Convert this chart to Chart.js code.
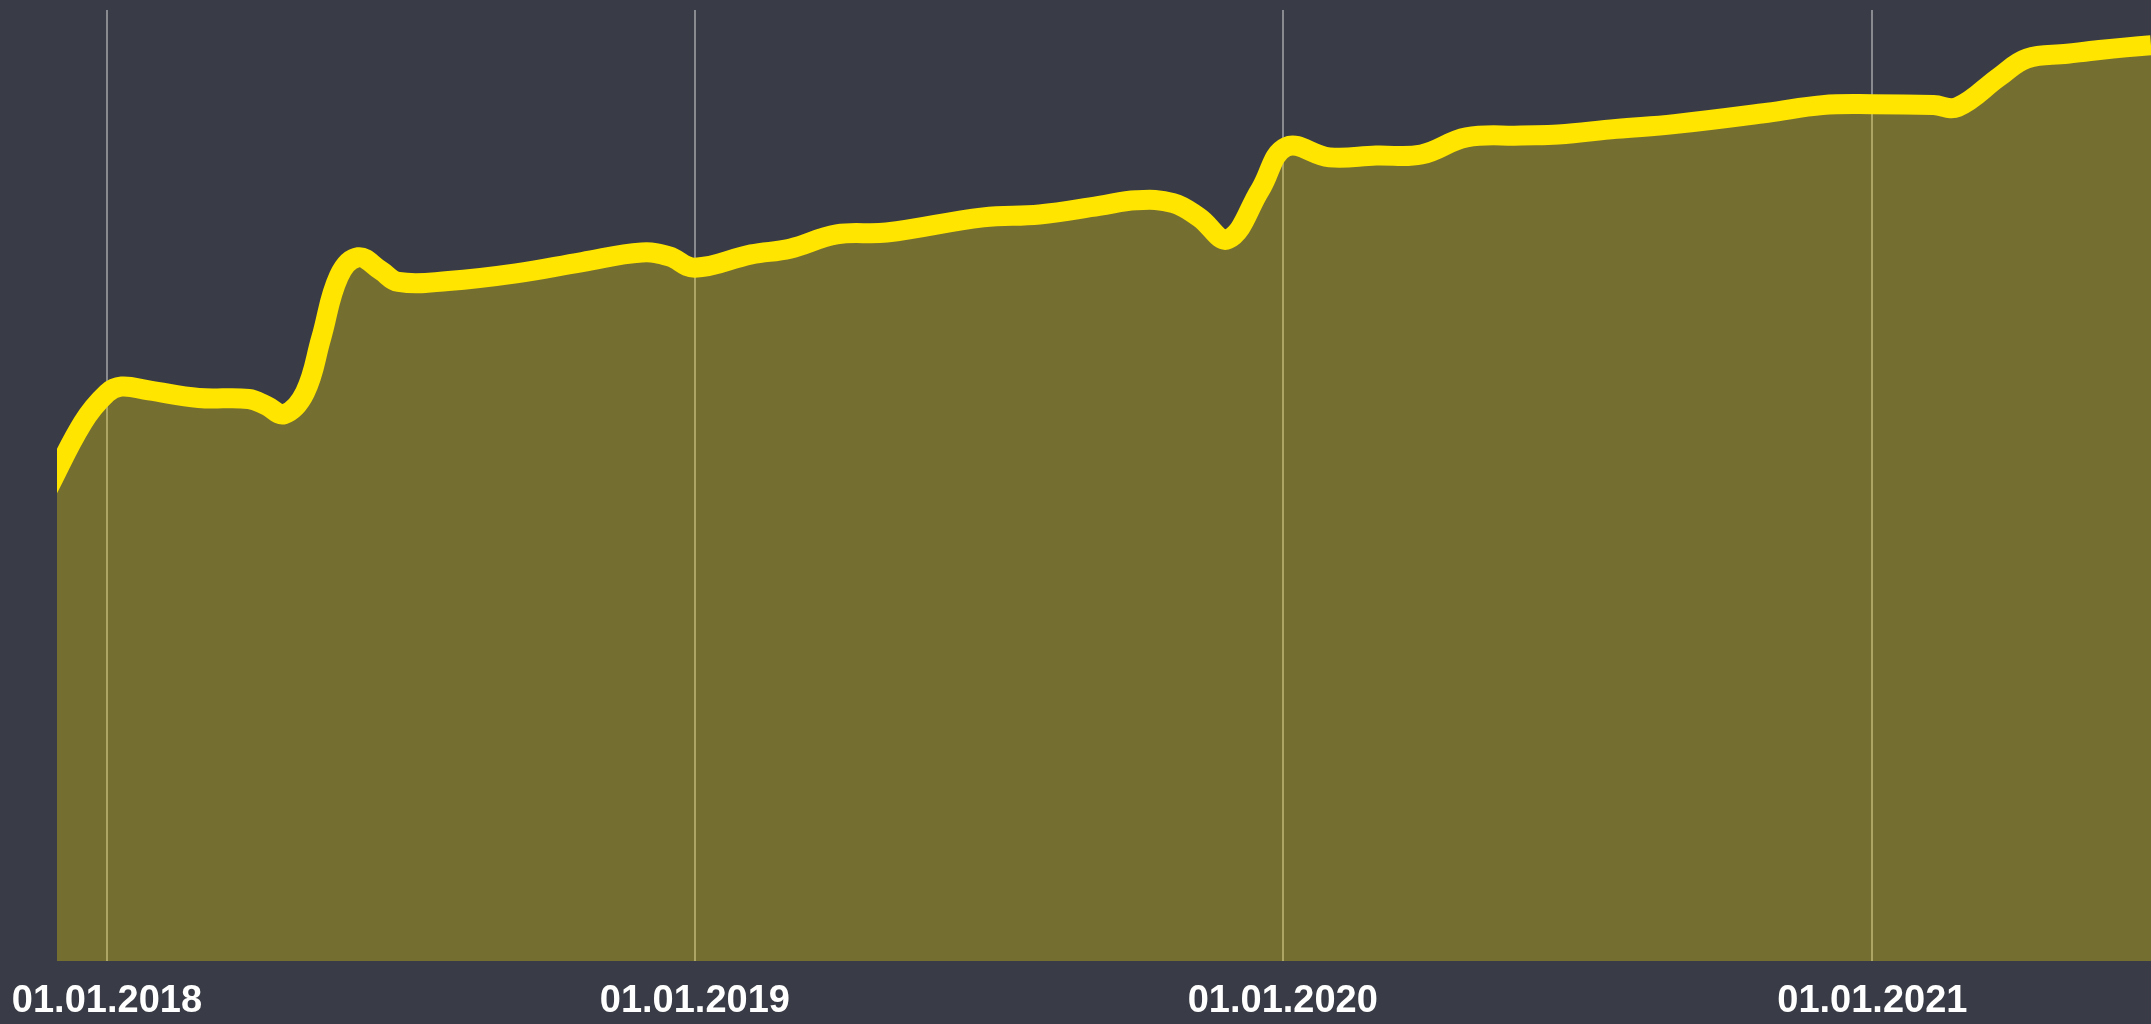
<!DOCTYPE html>
<html>
<head>
<meta charset="utf-8">
<script src="https://cdn.jsdelivr.net/npm/chart.js@4.4.1/dist/chart.umd.min.js"></script>
<style>
  html, body { margin: 0; padding: 0; background: #393c46; }
  #wrap { width: 2151px; height: 1024px; position: relative; }
</style>
</head>
<body>
<div id="wrap"><canvas id="chart"></canvas></div>
<script>
// Series (dates, values in relative units)
const dates = [
  '2017-11-25', '2017-12-17', '2018-01-01', '2018-01-10', '2018-01-27', '2018-02-27',
  '2018-03-30', '2018-04-10', '2018-04-21', '2018-05-04', '2018-05-14', '2018-05-25',
  '2018-06-06', '2018-06-20', '2018-07-01', '2018-08-01', '2018-09-12', '2018-10-23',
  '2018-11-29', '2018-12-16', '2019-01-01', '2019-02-05', '2019-03-01', '2019-03-30',
  '2019-04-30', '2019-06-29', '2019-08-03', '2019-09-09', '2019-10-02', '2019-10-25',
  '2019-11-10', '2019-11-28', '2019-12-18', '2020-01-03', '2020-01-30', '2020-02-28',
  '2020-03-27', '2020-04-24', '2020-05-28', '2020-06-20', '2020-07-26', '2020-08-31',
  '2020-10-28', '2020-12-01', '2021-01-01', '2021-02-08', '2021-02-23', '2021-03-21',
  '2021-04-07', '2021-05-02', '2021-05-22', '2021-06-23', '2021-07-05'
];
const values = [
  49.5, 56.6, 59.7, 60.4, 60.0, 59.2,
  59.1, 58.4, 57.5, 59.8, 65.5, 72.0,
  74.0, 72.6, 71.4, 71.5, 72.3, 73.5,
  74.5, 74.1, 72.9, 74.3, 74.9, 76.4,
  76.6, 78.2, 78.5, 79.4, 80.0, 79.7,
  78.2, 75.9, 81.1, 85.6, 84.5, 84.7,
  84.8, 86.6, 86.8, 86.9, 87.5, 88.0,
  89.2, 90.0, 90.1, 90.0, 89.8, 93.0,
  94.9, 95.4, 95.8, 96.3, 96.4
];
const tickDates = ['2018-01-01', '2019-01-01', '2020-01-01', '2021-01-01'];
const rangeStart = '2017-12-01';
const rangeEnd = '2021-06-23';

// days since 2018-01-01
const base = Date.UTC(2018, 0, 1);
function toDay(s) {
  const p = s.split('-').map(Number);
  return (Date.UTC(p[0], p[1] - 1, p[2]) - base) / 86400000;
}
function fmt(day) {
  const d = new Date(base + day * 86400000);
  const dd = String(d.getUTCDate()).padStart(2, '0');
  const mm = String(d.getUTCMonth() + 1).padStart(2, '0');
  return dd + '.' + mm + '.' + d.getUTCFullYear();
}

const points = dates.map((d, i) => ({ x: toDay(d), y: values[i] }));

const canvas = document.getElementById('chart');
canvas.width = 2151;
canvas.height = 1024;

new Chart(canvas.getContext('2d'), {
  type: 'line',
  data: {
    datasets: [{
      data: points,
      borderColor: '#ffe500',
      backgroundColor: 'rgba(255, 230, 0, 0.3)',
      borderWidth: 20,
      fill: 'start',
      tension: 0.4,
      pointRadius: 0,
      clip: 0
    }]
  },
  options: {
    responsive: false,
    animation: false,
    layout: { padding: { left: 57, top: 10, right: 0, bottom: 0 } },
    plugins: { legend: { display: false }, tooltip: { enabled: false } },
    scales: {
      x: {
        type: 'linear',
        min: toDay(rangeStart),
        max: toDay(rangeEnd),
        afterBuildTicks: (scale) => {
          scale.ticks = tickDates.map(d => ({ value: toDay(d) }));
        },
        afterFit: (scale) => {
          scale.height = 63;
          scale.paddingLeft = 0;
          scale.paddingRight = 0;
        },
        border: { display: false },
        grid: { color: 'rgba(255,255,255,0.4)', lineWidth: 2, drawTicks: false },
        ticks: {
          autoSkip: false,
          maxRotation: 0,
          padding: 18,
          color: '#ffffff',
          font: { family: '"Liberation Sans", Arial, sans-serif', size: 38, weight: 'bold', lineHeight: 1.2 },
          callback: (v) => fmt(v)
        }
      },
      y: {
        display: false,
        min: 0,
        max: 100
      }
    }
  }
});
</script>
</body>
</html>
